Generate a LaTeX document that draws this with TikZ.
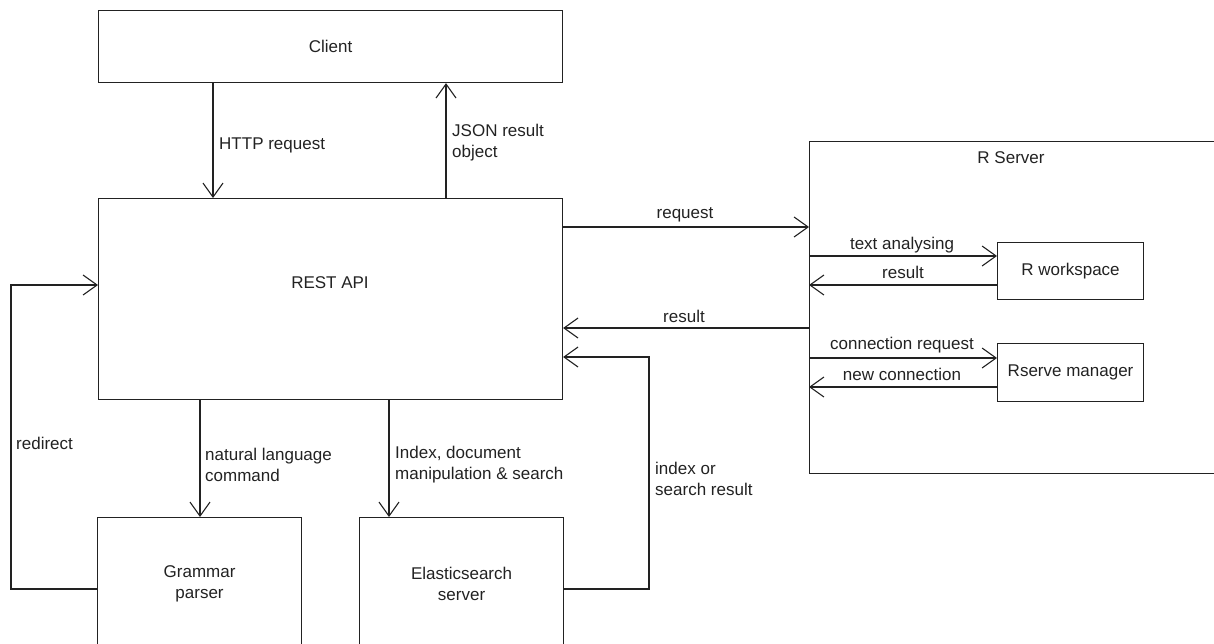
\documentclass[tikz,border=0pt]{standalone}
\usepackage{fontspec}
\setmainfont{Liberation Sans}
\usetikzlibrary{arrows.meta}
\definecolor{ink}{HTML}{222222}
\begin{document}
\begin{tikzpicture}[x=1pt,y=-1pt,
  every node/.style={font=\fontsize{17}{21}\selectfont, inner sep=0pt, text=ink},
  box/.style={draw=ink, line width=1.1pt, rectangle, anchor=north west},
  arr/.style={draw=ink, -{Straight Barb[length=14pt,width=20pt,line width=1.1pt]}, line width=1.1pt},
  lbl/.style={anchor=west, align=left}]
\useasboundingbox (0,0) rectangle (1214,643);
\clip (0,0) rectangle (1214,643);
% boxes
\node[box, minimum width=464pt, minimum height=72pt] (client) at (98,10) {Client};
\node[box, minimum width=464pt, minimum height=201pt] (rest) at (98,198) {};
\node (restlbl) at (330,283) {REST API};
\node[box, minimum width=204pt, minimum height=132pt, align=center] (grammar) at (97,517) {Grammar\\parser};
\node[box, minimum width=204pt, minimum height=132pt, align=center] (elastic) at (359,517) {Elasticsearch\\server};
\node[box, minimum width=440pt, minimum height=332pt] (rserver) at (809,141) {};
\node (rserverlbl) at (1011,158) {R Server};
\node[box, minimum width=146pt, minimum height=57pt] (rws) at (997,242) {R workspace};
\node[box, minimum width=146pt, minimum height=58pt] (rsm) at (997,343) {Rserve manager};
% helper coordinates
\coordinate (cHTTP) at (213,0);
\coordinate (cJSON) at (446,0);
\coordinate (cNL) at (200,0);
\coordinate (cIDX) at (389,0);
\coordinate (xIdx) at (649,0);
\coordinate (xRed) at (11,0);
\coordinate (rReq) at (0,227);
\coordinate (rRes) at (0,328);
\coordinate (rIdx) at (0,357);
\coordinate (rRed) at (0,285);
\coordinate (rBot) at (0,589);
\coordinate (rTA) at (0,256);
\coordinate (rR2) at (0,285);
\coordinate (rCR) at (0,358);
\coordinate (rNC) at (0,387);
% connectors
\draw[arr] (client.south -| cHTTP) -- (rest.north -| cHTTP);
\draw[arr] (rest.north -| cJSON) -- (client.south -| cJSON);
\draw[arr] (rest.east |- rReq) -- (rserver.west |- rReq);
\draw[arr] (rserver.west |- rRes) -- (rest.east |- rRes);
\draw[arr] (elastic.east |- rBot) -| (xIdx |- rIdx) -- (rest.east |- rIdx);
\draw[arr] (grammar.west |- rBot) -| (xRed |- rRed) -- (rest.west |- rRed);
\draw[arr] (rest.south -| cNL) -- (grammar.north -| cNL);
\draw[arr] (rest.south -| cIDX) -- (elastic.north -| cIDX);
\draw[arr] (rserver.west |- rTA) -- (rws.west |- rTA);
\draw[arr] (rws.west |- rR2) -- (rserver.west |- rR2);
\draw[arr] (rserver.west |- rCR) -- (rsm.west |- rCR);
\draw[arr] (rsm.west |- rNC) -- (rserver.west |- rNC);
% labels
\node[lbl] (lHTTP) at (219,145) {HTTP request};
\node[lbl] (lJSON) at (452,143) {JSON result\\object};
\node (lReq) at (685,215) {request};
\node (lRes) at (684,316) {result};
\node (lTA) at (902,245) {text analysing};
\node (lR2) at (903,272) {result};
\node (lCR) at (902,345) {connection request};
\node (lNC) at (902,374) {new connection};
\node[lbl] (lRed) at (16,443) {redirect};
\node[lbl] (lNL) at (205,465) {natural language\\command};
\node[lbl] (lIdx) at (395,465) {Index, document\\manipulation \& search};
\node[lbl] (lISR) at (655,479) {index or\\search result};
\end{tikzpicture}
\end{document}
